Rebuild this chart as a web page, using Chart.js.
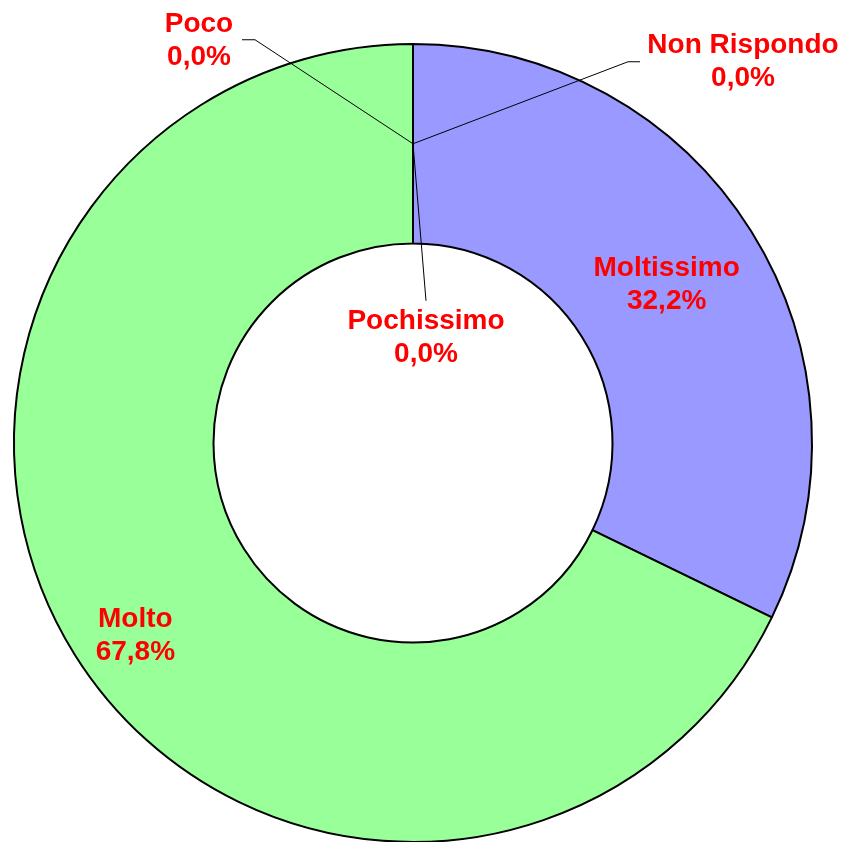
<!DOCTYPE html>
<html>
<head>
<meta charset="utf-8">
<script src="https://cdn.jsdelivr.net/npm/chart.js@4/dist/chart.umd.min.js"></script>
<style>
    body { margin: 0; background: #fff; }
    .chart-container { width: 844px; height: 842px; overflow: hidden; }
</style>
</head>
<body>
<div class="chart-container">
    <canvas id="chartCanvas" width="844" height="900"></canvas>
</div>
<script>
// Data (percent of answers)
const categories = ['Moltissimo', 'Molto', 'Poco', 'Pochissimo', 'Non Rispondo'];
const values = [32.2, 67.8, 0, 0, 0];
const sliceColors = ['#9999FF', '#99FF99', '#FFFFCC', '#CCFFFF', '#660066'];

// Label offset from the slice anchor (mid angle, mid radius), and leader line kink
const labelOffsets = [[0, 0], [-24, 34], [-214, -103], [13, 194], [330, -82]];
const leaderEnds = [null, null, [-158, -104, -171], [13, 157, null], [215, -82, 227]];

function percentText(v, total) {
    return (v / total * 100).toFixed(1).replace('.', ',') + '%';
}

// Plugin to draw the data labels and leader lines
const labelPlugin = {
    id: 'sliceLabels',
    afterDatasetsDraw(chart) {
        const ctx = chart.ctx;
        const meta = chart.getDatasetMeta(0);
        const total = values.reduce((a, b) => a + b, 0);
        ctx.save();
        meta.data.forEach((arc, i) => {
            const p = arc.getProps(['x', 'y', 'startAngle', 'endAngle', 'innerRadius', 'outerRadius'], true);
            const mid = (p.startAngle + p.endAngle) / 2;
            const r = (p.innerRadius + p.outerRadius) / 2;
            const ax = p.x + Math.cos(mid) * r;
            const ay = p.y + Math.sin(mid) * r;

            // leader line for the empty slices
            const le = leaderEnds[i];
            if (le) {
                ctx.strokeStyle = '#000';
                ctx.lineWidth = 1;
                ctx.beginPath();
                ctx.moveTo(ax, ay);
                ctx.lineTo(ax + le[0], ay + le[1]);
                if (le[2] !== null) ctx.lineTo(ax + le[2], ay + le[1]);
                ctx.stroke();
            }

            const lx = ax + labelOffsets[i][0];
            const ly = ay + labelOffsets[i][1];
            ctx.fillStyle = '#FF0000';
            ctx.font = 'bold 28px "Liberation Sans", Arial, sans-serif';
            ctx.textAlign = 'center';
            ctx.textBaseline = 'middle';
            ctx.fillText(categories[i], lx, ly - 16);
            ctx.fillText(percentText(values[i], total), lx, ly + 17);
        });
        ctx.restore();
    }
};

const ctx = document.getElementById('chartCanvas').getContext('2d');
const answersChart = new Chart(ctx, {
    type: 'doughnut',
    data: {
        labels: categories,
        datasets: [{
            data: values,
            backgroundColor: sliceColors,
            borderColor: '#000000',
            borderWidth: 2
        }]
    },
    options: {
        responsive: false,
        animation: false,
        cutout: '50%',
        layout: {
            padding: { left: 13, top: 43, right: 31, bottom: 57 }
        },
        plugins: {
            legend: { display: false },
            tooltip: { enabled: false }
        }
    },
    plugins: [labelPlugin]
});
</script>
</body>
</html>
